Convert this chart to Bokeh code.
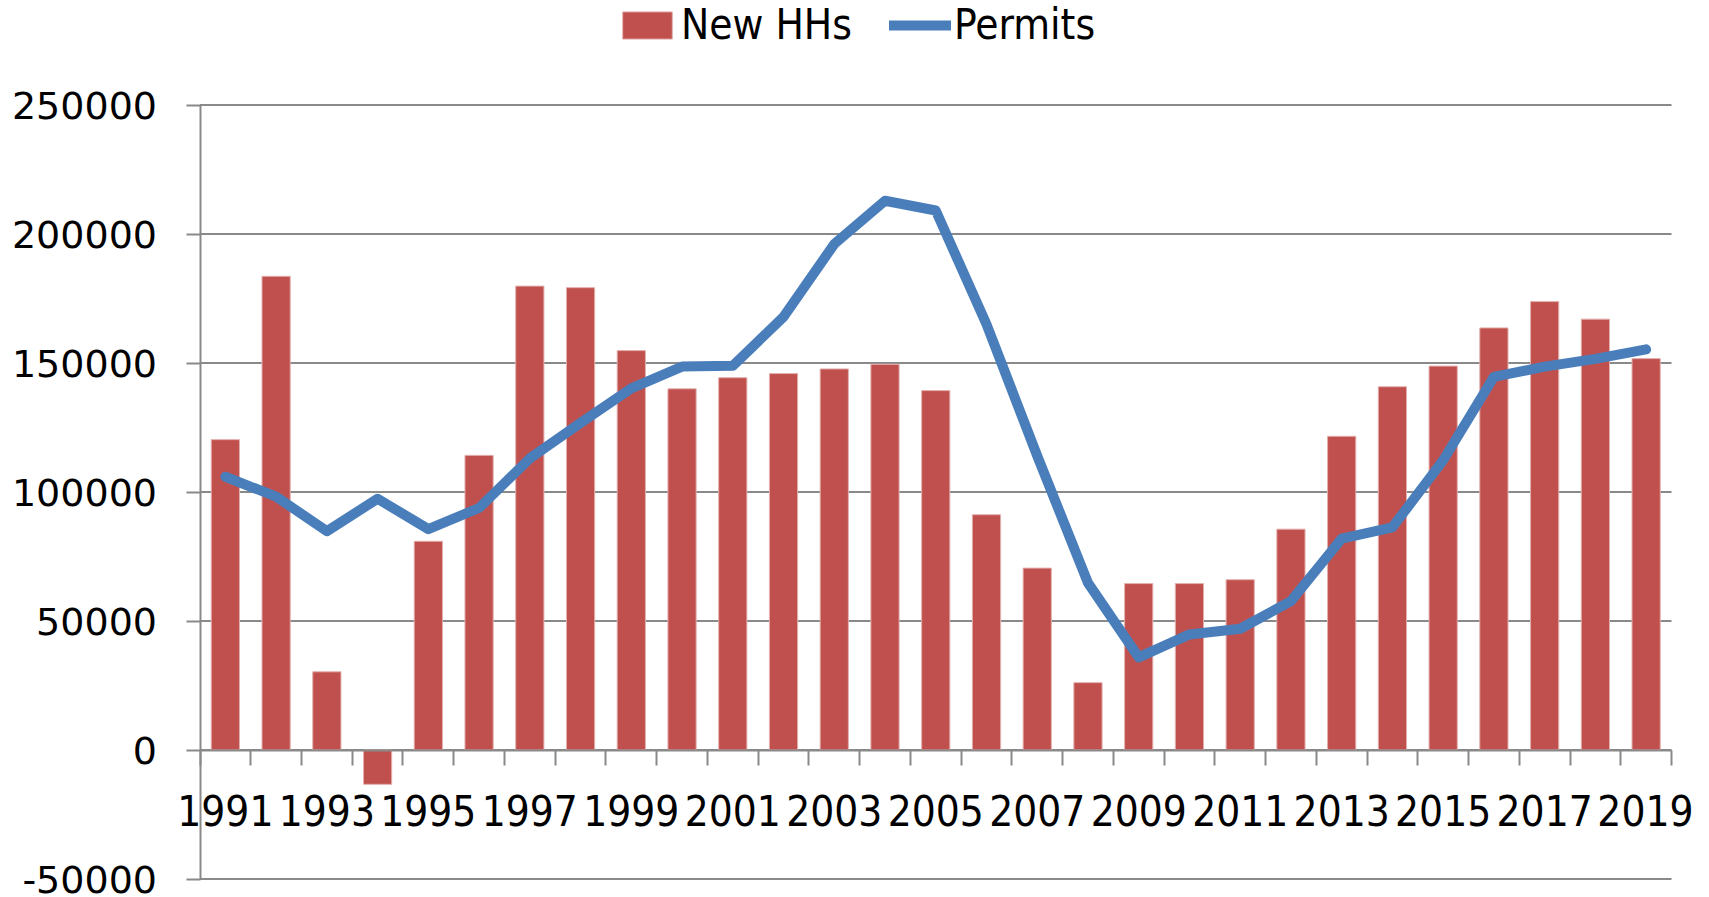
from bokeh.plotting import figure
from bokeh.models import (ColumnDataSource, FixedTicker, LinearAxis, Legend, LegendItem,
                          Range1d, NumeralTickFormatter, BasicTickFormatter)
from bokeh.embed import file_html
from bokeh.resources import INLINE

years = list(range(1991, 2020))
new_hhs = [120300, 183600, 30300, -13300, 80900, 114200, 179800, 179200, 154800, 140000,
           144300, 145900, 147700, 149500, 139300, 91200, 70500, 26100, 64500, 64500,
           66000, 85600, 121600, 140800, 148800, 163600, 173800, 167000, 151700]
permits = [105900, 98200, 84800, 97400, 85600, 93800, 113000, 126800, 140200, 148600,
           148900, 167900, 196100, 212900, 209100, 165000, 114000, 64800, 35900, 44800,
           47000, 57700, 81900, 86300, 112300, 144600, 148600, 151600, 155300]
y_ticks = [-50000, 0, 50000, 100000, 150000, 200000, 250000]
x_label_years = [y for y in years if y % 2 == 1]

GRID = "#898989"
RED = "#C0504D"
RED_EDGE = "#E3AFAD"
BLUE = "#4A7EBB"
COND = "'DejaVu Sans Condensed', 'Liberation Sans Narrow', 'DejaVu Sans'"

# layout (screen pixels): the frame covers the whole figure so that labels that
# overhang the plot area (as in the original) are not clipped
W, H = 1693, 895
PX_LEFT, PX_RIGHT = 199.5, 1671.0      # value axis / right end of category axis
PX_TOP, PX_BOT = 104.5, 878.5          # 250000 / -50000 grid lines
x_lo, x_hi = years[0] - 0.5, years[-1] + 0.5
cw = (PX_RIGHT - PX_LEFT) / (x_hi - x_lo)
x_start = x_lo - PX_LEFT / cw
x_end = x_hi + (W - PX_RIGHT) / cw
ys = (y_ticks[-1] - y_ticks[0]) / (PX_BOT - PX_TOP)
y_end = y_ticks[-1] + PX_TOP * ys
y_start = y_ticks[0] - (H - PX_BOT) * ys

src = ColumnDataSource(dict(year=years, hhs=new_hhs, permits=permits))
grid_src = ColumnDataSource(dict(y=y_ticks, x0=[x_lo] * len(y_ticks), x1=[x_hi] * len(y_ticks)))

p = figure(width=W, height=H,
           x_range=Range1d(x_start, x_end), y_range=Range1d(y_start, y_end),
           output_backend="svg", toolbar_location=None,
           x_axis_type=None, y_axis_type=None,
           min_border_left=0, min_border_right=0, min_border_top=0, min_border_bottom=0)
p.outline_line_color = None
p.background_fill_color = "white"
p.xgrid.visible = False
p.ygrid.visible = False

# horizontal grid lines limited to the plot area
p.segment(x0="x0", x1="x1", y0="y", y1="y", source=grid_src, line_color=GRID, line_width=2)

bars = p.vbar(x="year", top="hhs", width=0.556, source=src, fill_color=RED,
              line_color=RED_EDGE, line_width=1)
line = p.line(x="year", y="permits", source=src, line_width=10, line_color=BLUE,
              line_cap="round", line_join="round")

yax = LinearAxis(ticker=FixedTicker(ticks=y_ticks), formatter=NumeralTickFormatter(format="0"),
                 fixed_location=x_lo, bounds=(y_ticks[0], y_ticks[-1]),
                 major_tick_out=14, major_tick_in=0, minor_tick_line_color=None,
                 major_tick_line_color=GRID, major_tick_line_width=2,
                 axis_line_color=GRID, axis_line_width=2,
                 major_label_text_font="DejaVu Sans", major_label_text_font_size="38px",
                 major_label_text_color="black", major_label_standoff=29)
p.add_layout(yax, "left")

# category axis crossing at zero: labels on odd years, tick marks on category boundaries
bounds = [x_lo] + [y + 0.5 for y in years]
xax = LinearAxis(ticker=FixedTicker(ticks=x_label_years, minor_ticks=bounds), fixed_location=0,
                 bounds=(x_lo, x_hi),
                 formatter=BasicTickFormatter(use_scientific=False),
                 major_tick_out=0, major_tick_in=0, major_tick_line_color=None,
                 minor_tick_out=15, minor_tick_in=0,
                 minor_tick_line_color=GRID, minor_tick_line_width=2,
                 axis_line_color=GRID, axis_line_width=2,
                 major_label_text_font=COND, major_label_text_font_size="42px",
                 major_label_text_color="black", major_label_standoff=30)
p.add_layout(xax, "below")

legend = Legend(items=[LegendItem(label="New HHs", renderers=[bars]),
                       LegendItem(label="Permits", renderers=[line])],
                orientation="horizontal", location=(616, H - 49),
                glyph_width=62, glyph_height=34, label_standoff=3, spacing=37,
                label_text_font=COND, label_text_font_size="42px", label_text_color="black",
                padding=0, margin=0, border_line_color=None, background_fill_alpha=0)
p.add_layout(legend)

open("out.html", "w").write(file_html(p, INLINE))
